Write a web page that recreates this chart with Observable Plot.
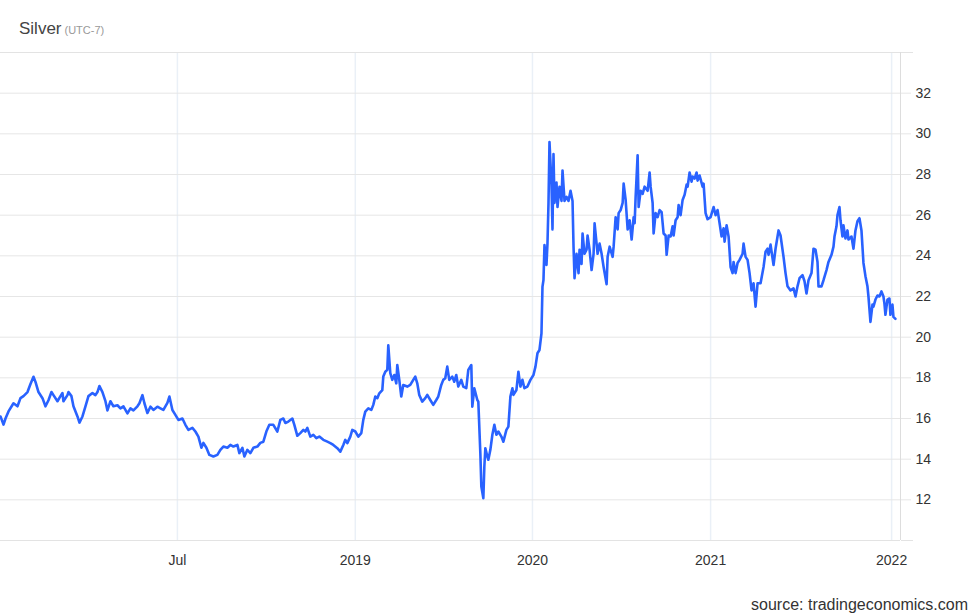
<!DOCTYPE html>
<html>
<head>
<meta charset="utf-8">
<script src="https://cdn.jsdelivr.net/npm/d3@7"></script>
<script src="https://cdn.jsdelivr.net/npm/@observablehq/plot@0.6"></script>
<style>
  html, body { margin: 0; padding: 0; background: #fff; }
  body { width: 980px; height: 615px; overflow: hidden; font-family: "Liberation Sans", Arial, sans-serif; }
  #title { position: relative; height: 48px; }
  #title .inner { position: absolute; left: 19px; top: 20px; line-height: 17px; white-space: nowrap; }
  #title .main { font-size: 17px; color: #444; }
  #title .sub { font-size: 11px; color: #999; margin-left: 3px; }
  #caption { height: 27px; text-align: right; padding-right: 12px; font-size: 16px; color: #333; line-height: 16px; padding-top: 9px; box-sizing: border-box; }
  svg { display: block; }
</style>
</head>
<body>
<div id="title"><div class="inner"><span class="main">Silver</span><span class="sub">(UTC-7)</span></div></div>
<div id="chart"></div>
<div id="caption">source: tradingeconomics.com</div>
<script>
// Time positions, as decimal years
const years = [
2017.508, 2017.5248, 2017.536, 2017.5528, 2017.5808, 2017.6032, 2017.62, 2017.6368, 2017.6593, 2017.6761,
2017.6929, 2017.7041, 2017.7209, 2017.7433, 2017.7601, 2017.7769, 2017.7937, 2017.8049, 2017.8273, 2017.8441,
2017.8553, 2017.8609, 2017.8833, 2017.8889, 2017.9057, 2017.9169, 2017.9394, 2017.9506, 2017.9674, 2017.9842,
2018.001, 2018.0234, 2018.0402, 2018.0514, 2018.0626, 2018.0794, 2018.0962, 2018.1074, 2018.1242, 2018.141,
2018.1634, 2018.1802, 2018.197, 2018.2195, 2018.2363, 2018.2531, 2018.2755, 2018.2867, 2018.3035, 2018.3147,
2018.3315, 2018.3483, 2018.3651, 2018.3875, 2018.4043, 2018.4211, 2018.4435, 2018.4547, 2018.4715, 2018.4883,
2018.5052, 2018.5276, 2018.5444, 2018.5612, 2018.5836, 2018.6004, 2018.6172, 2018.634, 2018.6452, 2018.662,
2018.6788, 2018.7012, 2018.7236, 2018.7404, 2018.7572, 2018.7797, 2018.7965, 2018.8133, 2018.8357, 2018.8469,
2018.8637, 2018.8749, 2018.8917, 2018.9085, 2018.9253, 2018.9477, 2018.9645, 2018.9813, 2018.9981, 2019.0149,
2019.0373, 2019.0597, 2019.0766, 2019.0934, 2019.1046, 2019.1214, 2019.1438, 2019.155, 2019.1718, 2019.1886,
2019.2054, 2019.2166, 2019.2278, 2019.2446, 2019.2614, 2019.2782, 2019.295, 2019.3174, 2019.3399, 2019.3567,
2019.3735, 2019.3959, 2019.4127, 2019.4295, 2019.4407, 2019.4519, 2019.4687, 2019.4799, 2019.4967, 2019.5135,
2019.5303, 2019.5415, 2019.5527, 2019.5695, 2019.5863, 2019.5975, 2019.6088, 2019.62, 2019.6312, 2019.648,
2019.6536, 2019.6648, 2019.676, 2019.6816, 2019.6928, 2019.704, 2019.7152, 2019.7264, 2019.732, 2019.7432,
2019.7544, 2019.7656, 2019.788, 2019.8048, 2019.8216, 2019.8328, 2019.844, 2019.8552, 2019.872, 2019.8889,
2019.9001, 2019.9169, 2019.9337, 2019.9505, 2019.9617, 2019.9785, 2019.9897, 2020.0009, 2020.0121, 2020.0233,
2020.0401, 2020.0513, 2020.0625, 2020.0737, 2020.0905, 2020.1017, 2020.1185, 2020.1297, 2020.1465, 2020.1521,
2020.1633, 2020.1801, 2020.1857, 2020.197, 2020.2026, 2020.2138, 2020.2194, 2020.225, 2020.2362, 2020.2418,
2020.253, 2020.2642, 2020.2754, 2020.2866, 2020.2978, 2020.3146, 2020.3258, 2020.3426, 2020.3538, 2020.365,
2020.3762, 2020.3818, 2020.3986, 2020.4098, 2020.421, 2020.4322, 2020.4434, 2020.4602, 2020.477, 2020.4939,
2020.5051, 2020.5163, 2020.5275, 2020.5387, 2020.5443, 2020.5499, 2020.5555, 2020.5667, 2020.5723, 2020.5779,
2020.5835, 2020.5947, 2020.6003, 2020.6059, 2020.6115, 2020.6227, 2020.6283, 2020.6395, 2020.6507, 2020.6563,
2020.6675, 2020.6787, 2020.6899, 2020.7011, 2020.7123, 2020.7179, 2020.7235, 2020.7347, 2020.7459, 2020.7515,
2020.7627, 2020.7683, 2020.7795, 2020.7907, 2020.7963, 2020.8075, 2020.8188, 2020.83, 2020.8356, 2020.8524,
2020.8636, 2020.8748, 2020.886, 2020.9028, 2020.9084, 2020.9196, 2020.9364, 2020.942, 2020.9532, 2020.9644,
2020.97, 2020.9812, 2020.9924, 2020.998, 2021.0092, 2021.0204, 2021.0316, 2021.0428, 2021.054, 2021.0596,
2021.0652, 2021.0764, 2021.082, 2021.0932, 2021.1044, 2021.1156, 2021.1324, 2021.1436, 2021.1492, 2021.1604,
2021.166, 2021.1772, 2021.1884, 2021.1996, 2021.2108, 2021.222, 2021.2333, 2021.2389, 2021.2501, 2021.2613,
2021.2725, 2021.2781, 2021.2893, 2021.3005, 2021.3061, 2021.3173, 2021.3285, 2021.3397, 2021.3509, 2021.3565,
2021.3677, 2021.3789, 2021.3845, 2021.3957, 2021.4069, 2021.4125, 2021.4237, 2021.4405, 2021.4461, 2021.4573,
2021.4685, 2021.4853, 2021.5022, 2021.5134, 2021.5246, 2021.5358, 2021.547, 2021.5582, 2021.5638, 2021.575,
2021.5862, 2021.5974, 2021.6086, 2021.6142, 2021.6254, 2021.6366, 2021.6478, 2021.6646, 2021.6702, 2021.6814,
2021.6926, 2021.7038, 2021.715, 2021.7262, 2021.7374, 2021.7486, 2021.7654, 2021.7822, 2021.7934, 2021.8046,
2021.8102, 2021.8214, 2021.8382, 2021.8494, 2021.8606, 2021.8662, 2021.8774, 2021.8942, 2021.9054, 2021.9166,
2021.9334, 2021.9502, 2021.9614, 2021.9726, 2021.9838, 2022.0006, 2022.0118, 2022.023, 2022.0342, 2022.051,
2022.0622, 2022.0734, 2022.0846, 2022.0902, 2022.107, 2022.1182, 2022.135, 2022.1462, 2022.163, 2022.1742,
2022.1798, 2022.191, 2022.1966, 2022.2078, 2022.2134, 2022.2246, 2022.2302, 2022.2414, 2022.2526, 2022.2582,
2022.275, 2022.2862, 2022.2974, 2022.3086, 2022.3198, 2022.331, 2022.3422, 2022.3534, 2022.3646, 2022.3702,
2022.3814, 2022.3926, 2022.3982, 2022.4094, 2022.4206, 2022.4318, 2022.443, 2022.4542, 2022.4598, 2022.4654,
2022.4766, 2022.4878, 2022.4934, 2022.5046, 2022.5102, 2022.5214
];
// Silver price (USD/oz)
const prices = [
16.1, 15.7, 16.0, 16.35, 16.75, 16.6, 17.0, 17.1, 17.3, 17.7,
18.05, 17.8, 17.3, 17.0, 16.6, 16.9, 17.3, 17.15, 16.85, 17.1,
17.25, 16.85, 17.15, 17.3, 17.1, 16.6, 16.1, 15.8, 16.1, 16.6,
17.1, 17.25, 17.15, 17.3, 17.6, 17.3, 16.85, 16.4, 16.85, 16.6,
16.65, 16.5, 16.6, 16.25, 16.5, 16.4, 16.6, 16.75, 17.15, 16.75,
16.27, 16.58, 16.42, 16.58, 16.5, 16.42, 16.77, 17.08, 16.42, 16.18,
15.93, 16.0, 15.69, 15.44, 15.54, 15.36, 15.11, 14.56, 14.8, 14.56,
14.21, 14.13, 14.21, 14.46, 14.62, 14.56, 14.7, 14.62, 14.7, 14.3,
14.56, 14.13, 14.46, 14.3, 14.56, 14.62, 14.8, 14.86, 15.36, 15.69,
15.69, 15.36, 15.93, 16.0, 15.78, 15.85, 16.0, 15.69, 15.15, 15.28,
15.44, 15.36, 15.54, 15.11, 15.2, 15.03, 15.11, 14.95, 14.86, 14.79,
14.7, 14.54, 14.37, 14.7, 14.95, 14.79, 15.11, 15.44, 15.36, 15.11,
15.28, 15.93, 16.34, 16.5, 16.42, 16.67, 17.08, 17.0, 17.24, 17.4,
18.06, 18.3, 18.39, 19.6, 18.23, 17.9, 18.14, 17.73, 18.63, 17.9,
17.08, 17.65, 17.57, 17.65, 17.9, 18.06, 17.73, 17.16, 16.83, 17.0,
17.16, 16.91, 16.67, 16.91, 17.08, 17.65, 17.9, 17.98, 18.55, 17.9,
18.06, 17.81, 18.14, 17.57, 17.9, 17.57, 17.49, 18.39, 18.63, 16.58,
17.49, 16.91, 16.83, 14.29, 12.65, 12.08, 13.64, 14.54, 14.13, 13.97,
14.46, 15.2, 15.69, 15.2, 15.36, 15.11, 14.86, 15.44, 15.6, 17.08,
17.49, 17.16, 17.4, 18.3, 17.57, 17.9, 17.49, 17.57, 17.9, 18.14,
18.55, 19.21, 19.37, 20.19, 22.48, 22.81, 24.53, 23.55, 24.61, 26.58,
29.6, 27.5, 25.3, 29.0, 26.6, 27.6, 26.4, 27.4, 26.7, 28.2,
26.7, 26.9, 26.7, 27.2, 26.7, 24.45, 22.9, 24.1, 23.15, 24.3,
23.6, 25.1, 24.1, 24.3, 25.0, 24.3, 23.3, 24.1, 25.6, 24.1,
24.6, 24.1, 23.45, 22.6, 23.95, 24.45, 23.95, 24.45, 25.9, 25.3,
26.1, 26.25, 26.6, 27.55, 26.75, 25.3, 25.75, 24.8, 25.9, 25.6,
26.9, 28.95, 26.4, 27.2, 27.05, 27.4, 27.2, 28.1, 27.4, 26.6,
25.1, 26.1, 25.9, 26.25, 26.15, 25.1, 25.0, 24.05, 25.0, 24.95,
25.45, 25.0, 25.75, 25.9, 26.5, 26.0, 26.75, 27.0, 27.5, 27.4,
28.1, 27.65, 27.9, 27.8, 28.1, 27.7, 27.95, 27.4, 27.55, 26.1,
25.8, 25.9, 26.4, 26.0, 26.25, 25.6, 24.95, 25.35, 24.7, 25.5,
24.95, 23.45, 23.15, 23.7, 23.15, 23.65, 23.8, 24.1, 24.6, 23.95,
23.8, 23.15, 22.3, 22.65, 21.5, 22.65, 22.65, 23.45, 24.2, 24.35,
24.05, 24.55, 23.55, 24.35, 24.95, 25.25, 25.0, 23.95, 23.15, 22.5,
22.3, 22.4, 22.0, 22.5, 22.9, 23.05, 22.75, 22.15, 22.8, 23.15,
24.35, 24.3, 23.7, 22.5, 22.5, 22.8, 23.3, 23.7, 24.05, 24.45,
24.95, 25.45, 26.0, 26.4, 25.75, 24.95, 25.5, 24.85, 25.25, 24.8,
24.95, 24.35, 25.25, 25.7, 25.85, 25.25, 23.65, 23.0, 22.5, 22.0,
20.75, 21.6, 21.5, 21.85, 22.05, 22.0, 22.25, 22.0, 21.65, 21.1,
21.85, 21.9, 21.1, 21.6, 21.0, 20.9
];
// Axis ticks (positions, as decimal years)
const xTickYears = [2018.4996, 2019.4967, 2020.4883, 2021.4854, 2022.5];
const xTickLabels = ["Jul", "2019", "2020", "2021", "2022"];
const yTicks = [12, 14, 16, 18, 20, 22, 24, 26, 28, 30, 32];
const xDomainYears = [2017.508, 2022.5498];
const yDomain = [10, 34];

function toDate(y) {
  const yr = Math.floor(y);
  const s = Date.UTC(yr, 0, 1), e = Date.UTC(yr + 1, 0, 1);
  return new Date(s + (y - yr) * (e - s));
}

const data = years.map((y, i) => ({date: toDate(y), price: prices[i]}));
const tickDates = xTickYears.map(toDate);
const labelByTime = new Map(tickDates.map((d, i) => [+d, xTickLabels[i]]));
const xDomain = xDomainYears.map(toDate);

const chart = Plot.plot({
  width: 980,
  height: 540,
  marginTop: 4,
  marginBottom: 48,
  marginLeft: 0,
  marginRight: 80,
  style: {fontFamily: "'Liberation Sans', Arial, sans-serif", fontSize: "14px", color: "#333", background: "#fff", overflow: "visible"},
  x: {type: "utc", domain: xDomain},
  y: {domain: yDomain},
  marks: [
    Plot.gridX(tickDates, {stroke: "#eaf0f7", strokeOpacity: 1, strokeWidth: 1.5}),
    Plot.gridY(yTicks, {stroke: "#e6e6e6", strokeOpacity: 1}),
    Plot.ruleY(yDomain, {stroke: "#e3e3e3"}),
    Plot.axisY(yDomain, {anchor: "right", tickSize: 12, tickFormat: () => "", stroke: "#e3e3e3", strokeOpacity: 1, label: null}),
    Plot.axisY(yTicks, {anchor: "right", tickSize: 10, tickPadding: 5, stroke: "#e6e6e6", strokeOpacity: 1, fill: "#333", label: null}),
    Plot.ruleX([xDomain[1]], {stroke: "#dddddd"}),
    Plot.axisX(tickDates, {tickSize: 0, tickPadding: 15, tickFormat: d => labelByTime.get(+d), fill: "#333", label: null}),
    Plot.lineY(data, {x: "date", y: "price", stroke: "#2962ff", strokeWidth: 2.6, strokeLinejoin: "round", strokeLinecap: "round"})
  ]
});
document.getElementById("chart").appendChild(chart);
</script>
</body>
</html>
